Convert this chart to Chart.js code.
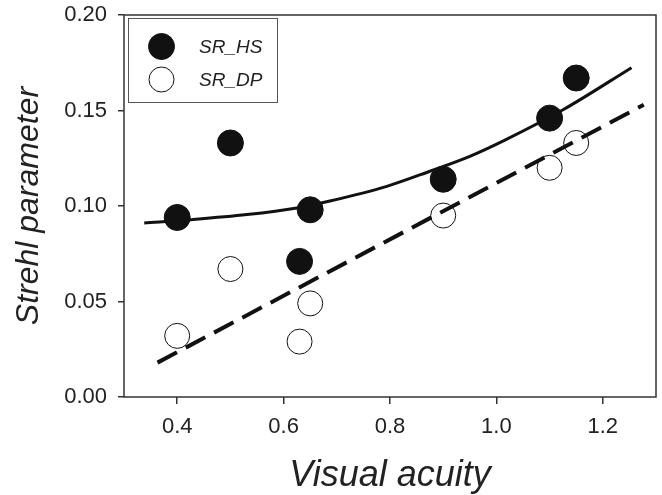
<!DOCTYPE html>
<html>
<head>
<meta charset="utf-8">
<script src="https://cdn.jsdelivr.net/npm/chart.js@4"></script>
<style>
  html, body { margin: 0; padding: 0; background: #fff; }
  #chart { display: block; }
</style>
</head>
<body>
<canvas id="chart" width="662" height="495"></canvas>
<script>
// measured values
const acuity = [0.4, 0.5, 0.63, 0.65, 0.9, 1.1, 1.15];
const srHS = [0.094, 0.133, 0.071, 0.098, 0.114, 0.146, 0.167];
const srDP = [0.032, 0.067, 0.029, 0.049, 0.095, 0.120, 0.133];

// fit curves
const fitHSx = [0.338, 0.424, 0.531, 0.625, 0.687, 0.794, 0.875, 0.950, 1.016, 1.126, 1.254];
const fitHSy = [0.0911, 0.0928, 0.0955, 0.0990, 0.1026, 0.1103, 0.1182, 0.1260, 0.1345, 0.1505, 0.1724];
const fitDPx = [0.363, 1.277];
const fitDPy = [0.018, 0.153];

const xTicks = [0.4, 0.6, 0.8, 1.0, 1.2];
const yTicks = [0.00, 0.05, 0.10, 0.15, 0.20];
const seriesNames = ['SR_HS', 'SR_DP'];

const FONT = '"Liberation Sans", Arial, Helvetica, sans-serif';
const INK = '#222';

const pts = (xs, ys) => xs.map((x, i) => ({ x: x, y: ys[i] }));

/* ---------- frame + legend ---------- */
const frameBox = {
    id: 'frameBox',
    afterDraw(chart) {
        const { ctx, chartArea: a } = chart;
        ctx.save();
        ctx.strokeStyle = '#333';
        ctx.lineWidth = 1.5;
        ctx.strokeRect(a.left, a.top, a.right - a.left, a.bottom - a.top);

        // legend in the upper left corner
        const lx = a.left + 4.5, ly = a.top + 3.5;
        ctx.lineWidth = 1;
        ctx.strokeStyle = '#555';
        ctx.fillStyle = '#fff';
        ctx.fillRect(lx, ly, 149, 84);
        ctx.strokeRect(lx, ly, 149, 84);
        seriesNames.forEach((name, i) => {
            const ds = chart.data.datasets[i];
            const cy = a.top + 31.5 + i * 33;
            ctx.beginPath();
            ctx.arc(a.left + 37.5, cy, ds.pointRadius, 0, Math.PI * 2);
            ctx.fillStyle = ds.backgroundColor;
            ctx.fill();
            ctx.lineWidth = ds.borderWidth;
            ctx.strokeStyle = ds.borderColor;
            ctx.stroke();
            ctx.fillStyle = INK;
            ctx.font = 'italic 19px ' + FONT;
            ctx.textBaseline = 'middle';
            ctx.textAlign = 'left';
            ctx.fillText(name, a.left + 75, cy + 1);
        });
        ctx.restore();
    }
};

new Chart(document.getElementById('chart'), {
    type: 'scatter',
    data: {
        datasets: [
            {
                label: seriesNames[0],
                data: pts(acuity, srHS),
                pointRadius: 13,
                pointHoverRadius: 13,
                backgroundColor: '#111',
                borderColor: '#111',
                borderWidth: 1,
                order: 2
            },
            {
                label: seriesNames[1],
                data: pts(acuity, srDP),
                pointRadius: 12.5,
                pointHoverRadius: 12.5,
                backgroundColor: '#fff',
                borderColor: '#111',
                borderWidth: 1,
                order: 1
            },
            {
                label: 'fit HS',
                type: 'line',
                data: pts(fitHSx, fitHSy),
                showLine: true,
                borderColor: '#111',
                borderWidth: 3,
                pointRadius: 0,
                cubicInterpolationMode: 'monotone',
                fill: false,
                order: 0
            },
            {
                label: 'fit DP',
                type: 'line',
                data: pts(fitDPx, fitDPy),
                showLine: true,
                borderColor: '#111',
                borderWidth: 4,
                borderDash: [22, 10],
                pointRadius: 0,
                fill: false,
                order: 0
            }
        ]
    },
    options: {
        responsive: false,
        devicePixelRatio: 1,
        animation: false,
        layout: { autoPadding: false, padding: { top: 15, right: 6, left: 0, bottom: 0 } },
        plugins: {
            legend: { display: false },
            tooltip: { enabled: false }
        },
        scales: {
            x: {
                type: 'linear',
                min: 0.3,
                max: 1.3,
                afterFit: s => { s.height = 98; s.paddingLeft = 0; s.paddingRight = 0; },
                afterBuildTicks: s => { s.ticks = xTicks.map(v => ({ value: v })); },
                border: { display: false },
                grid: { drawOnChartArea: false, drawTicks: true, tickLength: 7, tickColor: '#333', lineWidth: 1.5 },
                ticks: {
                    color: INK,
                    font: { family: FONT, size: 22 },
                    padding: 10,
                    maxRotation: 0,
                    callback: v => Number(v).toFixed(1)
                },
                title: {
                    display: true,
                    text: 'Visual acuity',
                    color: INK,
                    font: { family: FONT, size: 36, style: 'italic', lineHeight: 1 },
                    padding: { top: 0, bottom: 1 }
                }
            },
            y: {
                type: 'linear',
                min: 0,
                max: 0.2,
                afterFit: s => { s.width = 124; s.paddingTop = 0; s.paddingBottom = 0; },
                afterBuildTicks: s => { s.ticks = yTicks.map(v => ({ value: v })); },
                border: { display: false },
                grid: { drawOnChartArea: false, drawTicks: true, tickLength: 6, tickColor: '#333', lineWidth: 1.5 },
                ticks: {
                    color: INK,
                    font: { family: FONT, size: 22 },
                    padding: 11,
                    callback: v => Number(v).toFixed(2)
                },
                title: {
                    display: true,
                    text: 'Strehl parameter',
                    color: INK,
                    font: { family: FONT, size: 32, style: 'italic', lineHeight: 1 },
                    padding: { top: 13, bottom: 0 }
                }
            }
        }
    },
    plugins: [frameBox]
});
</script>
</body>
</html>
